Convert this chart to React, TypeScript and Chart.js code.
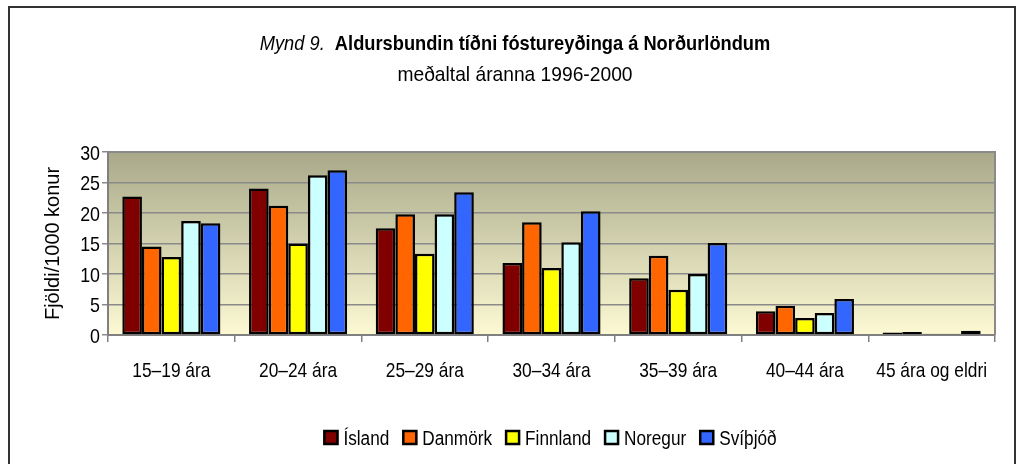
import React, { useEffect, useRef } from "react";
import { Chart, registerables } from "chart.js";

Chart.register(...registerables);

const categories = ["15–19 ára", "20–24 ára", "25–29 ára", "30–34 ára", "35–39 ára", "40–44 ára", "45 ára og eldri"];
const seriesNames = ["Ísland", "Danmörk", "Finnland", "Noregur", "Svíþjóð"];
const island = [22.7, 24.0, 17.5, 11.8, 9.3, 3.9, 0.4];
const danmork = [14.5, 21.2, 19.8, 18.5, 13.0, 4.8, 0.5];
const finnland = [12.8, 15.0, 13.3, 11.0, 7.4, 2.8, 0.2];
const noregur = [18.7, 26.2, 19.8, 15.2, 10.0, 3.6, 0.2];
const svithjod = [18.3, 27.0, 23.4, 20.3, 15.1, 5.9, 0.7];
const seriesColors = ["#800000", "#ff6600", "#ffff00", "#ccffff", "#3366ff"];
const yTicks = [0, 5, 10, 15, 20, 25, 30];

const titleItalic = "Mynd 9.";
const titleBold = "Aldursbundin tíðni fóstureyðinga á Norðurlöndum";
const subtitle = "meðaltal áranna 1996-2000";
const yTitle = "Fjöldi/1000 konur";

const SANS = "'Liberation Sans', Arial, sans-serif";

function condensed(ctx: any, text: string, x: number, y: number, font: string, sx: number, align: string) {
  ctx.save();
  ctx.font = font;
  ctx.textAlign = align;
  ctx.textBaseline = "alphabetic";
  ctx.translate(x, y);
  ctx.scale(sx, 1);
  ctx.fillText(text, 0, 0);
  ctx.restore();
}

const decorPlugin = {
  id: "decor",
  beforeDraw(chart: any) {
    const { ctx, chartArea: a } = chart;
    ctx.save();
    ctx.fillStyle = "#ffffff";
    ctx.fillRect(0, 0, chart.width, chart.height);
    const g = ctx.createLinearGradient(0, a.top, 0, a.bottom);
    g.addColorStop(0, "#a9a98a");
    g.addColorStop(1, "#fcf9d3");
    ctx.fillStyle = g;
    ctx.fillRect(a.left, a.top, a.right - a.left, a.bottom - a.top);
    ctx.restore();
  },
  beforeDatasetsDraw(chart: any) {
    const { ctx, chartArea: a } = chart;
    ctx.save();
    ctx.strokeStyle = "#8a8a8a";
    ctx.lineWidth = 2;
    ctx.beginPath();
    ctx.moveTo(a.left, a.top);
    ctx.lineTo(a.right, a.top);
    ctx.lineTo(a.right, a.bottom);
    ctx.stroke();
    ctx.restore();
  },
  afterDraw(chart: any) {
    const { ctx } = chart;
    ctx.save();
    // outer frame
    ctx.strokeStyle = "#333333";
    ctx.lineWidth = 2;
    ctx.strokeRect(9, 7, 1006, 480);
    ctx.fillStyle = "#000";

    // title
    const sxT = 0.87;
    const fi = "italic 21px " + SANS;
    const fb = "bold 21px " + SANS;
    ctx.font = fi;
    const wi = ctx.measureText(titleItalic + "  ").width * sxT;
    ctx.font = fb;
    const wb = ctx.measureText(titleBold).width * sxT;
    const tx = 515 - (wi + wb) / 2;
    condensed(ctx, titleItalic, tx, 50, fi, sxT, "left");
    condensed(ctx, titleBold, tx + wi, 50, fb, sxT, "left");
    condensed(ctx, subtitle, 515, 81, "21px " + SANS, 0.915, "center");

    // y axis title
    const a = chart.chartArea;
    ctx.save();
    ctx.translate(59, (a.top + a.bottom) / 2);
    ctx.rotate(-Math.PI / 2);
    condensed(ctx, yTitle, 0, 0, "21px " + SANS, 0.95, "center");
    ctx.restore();

    // y tick labels
    const ys = chart.scales.y;
    ys.ticks.forEach((t: any) => {
      const py = ys.getPixelForValue(t.value);
      condensed(ctx, String(t.value), 100, py + 7.5, "21px " + SANS, 0.85, "right");
    });

    // x tick labels
    const xs = chart.scales.x;
    chart.data.labels.forEach((lab: string, i: number) => {
      const px = xs.getPixelForTick(i);
      condensed(ctx, lab, px, 377, "21px " + SANS, 0.825, "center");
    });

    // legend
    const lf = "20px " + SANS;
    const sxL = 0.86;
    ctx.font = lf;
    const box = 14;
    const gapBox = 6;
    const gapItem = 13;
    const widths = chart.data.datasets.map((d: any) => box + gapBox + ctx.measureText(d.label).width * sxL);
    const total = widths.reduce((s: number, w: number) => s + w, 0) + gapItem * (widths.length - 1);
    let lx = 550 - total / 2;
    const lyTop = 430;
    chart.data.datasets.forEach((d: any, i: number) => {
      ctx.fillStyle = d.backgroundColor;
      ctx.fillRect(lx, lyTop, box + 1, box + 1);
      ctx.strokeStyle = "#000";
      ctx.lineWidth = 2.5;
      ctx.strokeRect(lx + 1, lyTop + 1, box - 1, box - 1);
      ctx.fillStyle = "#000";
      condensed(ctx, d.label, lx + box + gapBox, 445, lf, sxL, "left");
      lx += widths[i] + gapItem;
    });
    ctx.restore();
  },
};

export default function App() {
  const ref = useRef<HTMLCanvasElement>(null);
  useEffect(() => {
    document.body.style.margin = "0";
    const dataArrays = [island, danmork, finnland, noregur, svithjod];
    const chart = new Chart(ref.current as HTMLCanvasElement, {
      type: "bar",
      data: {
        labels: categories,
        datasets: dataArrays.map((arr, i) => ({
          label: seriesNames[i],
          data: arr,
          backgroundColor: seriesColors[i],
          borderColor: "#000000",
          borderWidth: 2.5,
          borderSkipped: false,
          categoryPercentage: 0.774,
          barPercentage: 1.0,
        })),
      },
      options: {
        responsive: false,
        animation: false,
        layout: { padding: { top: 152, right: 22, bottom: 69, left: 0 } },
        plugins: {
          legend: { display: false },
          title: { display: false },
          tooltip: { enabled: false },
        },
        scales: {
          x: {
            grid: {
              offset: true,
              drawOnChartArea: false,
              drawTicks: true,
              tickLength: 7,
              color: "#808080",
              lineWidth: 1.5,
            },
            border: { color: "#808080", width: 2 },
            ticks: {
              color: "rgba(0,0,0,0)",
              font: { family: SANS, size: 18 },
              padding: 14,
              maxRotation: 0,
              autoSkip: false,
            },
            afterFit: (s: any) => {
              s.height = 60;
            },
          },
          y: {
            min: 0,
            max: 30,
            afterBuildTicks: (s: any) => {
              s.ticks = yTicks.map((v) => ({ value: v }));
            },
            grid: { color: "#8a8a8a", lineWidth: 1.5, tickLength: 6, drawTicks: true },
            border: { color: "#808080", width: 2 },
            ticks: {
              color: "rgba(0,0,0,0)",
              font: { family: SANS, size: 18 },
              padding: 3,
            },
            afterFit: (s: any) => {
              s.width = 108;
            },
          },
        },
      },
      plugins: [decorPlugin],
    });
    return () => chart.destroy();
  }, []);
  return (
    <div style={{ width: 1017, height: 464 }}>
      <canvas ref={ref} width={1017} height={464} style={{ display: "block" }} />
    </div>
  );
}
